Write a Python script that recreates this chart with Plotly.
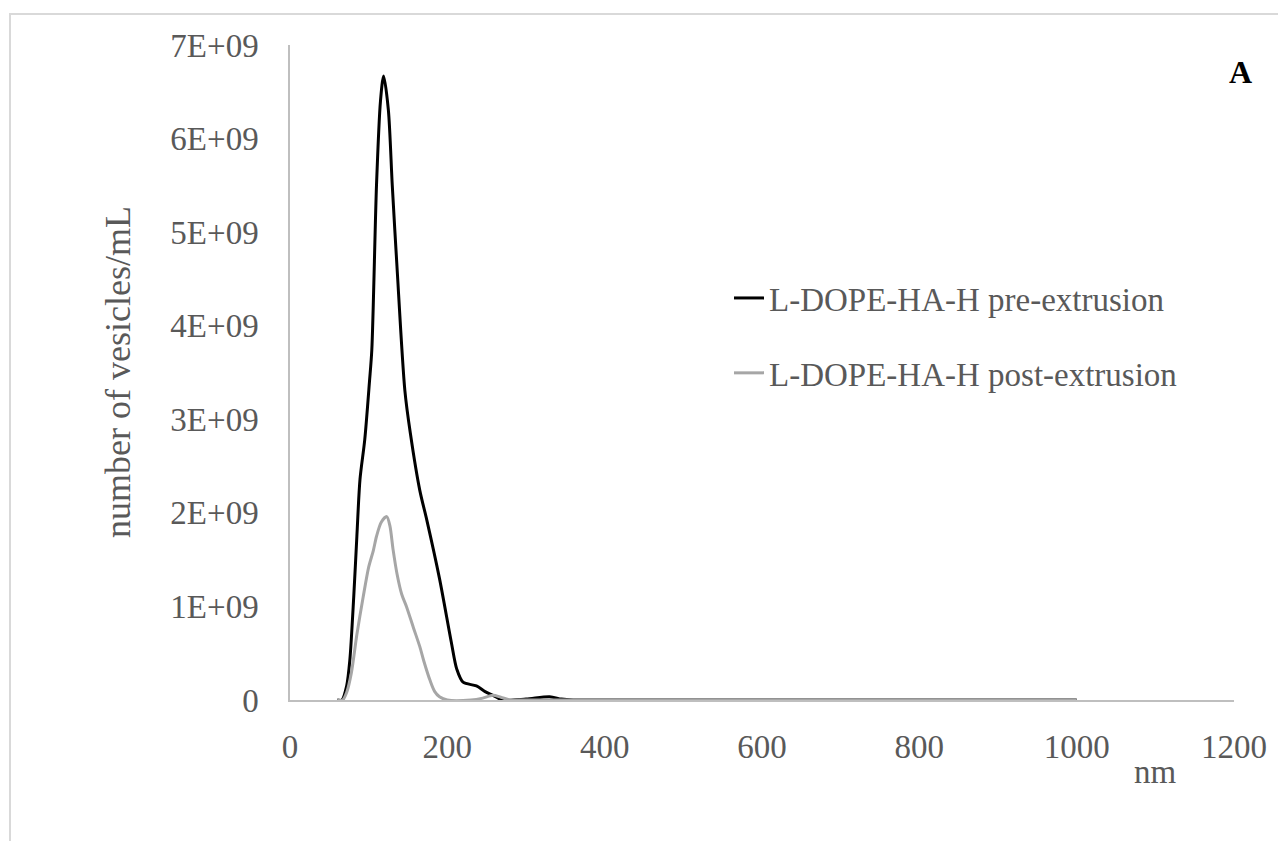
import plotly.graph_objects as go

# Size distribution, particles per mL (units of 1E9) vs diameter in nm
pre_nm = [60, 66, 72, 76, 81, 85, 89, 95, 101, 104, 110, 115, 119, 125, 130, 136, 146,
          153, 165, 174, 190, 205, 212, 220, 237, 248, 258, 270, 300, 330, 345, 360,
          400, 600, 800, 1000]
pre_val = [0.0, 0.0, 0.15, 0.42, 1.10, 1.75, 2.36, 2.78, 3.40, 3.74, 5.51, 6.40, 6.67,
           6.31, 5.50, 4.63, 3.31, 2.85, 2.24, 1.92, 1.30, 0.62, 0.33, 0.19, 0.15,
           0.09, 0.05, 0.0, 0.01, 0.035, 0.01, 0.0, 0.0, 0.0, 0.0, 0.0]

post_nm = [60, 67, 72, 78, 85, 93, 100, 106, 110, 116, 123, 127, 131, 136, 142, 148,
           157, 165, 170, 178, 184, 190, 200, 230, 245, 258, 268, 280, 300, 400, 600,
           800, 1000]
post_val = [0.0, 0.0, 0.08, 0.29, 0.70, 1.10, 1.42, 1.60, 1.75, 1.90, 1.96, 1.86, 1.61,
            1.35, 1.13, 1.00, 0.77, 0.57, 0.42, 0.21, 0.09, 0.035, 0.0, 0.0, 0.02,
            0.05, 0.03, 0.0, 0.0, 0.0, 0.0, 0.0, 0.0]

series_names = ["L-DOPE-HA-H pre-extrusion", "L-DOPE-HA-H post-extrusion"]
y_tick_vals = [0, 1e9, 2e9, 3e9, 4e9, 5e9, 6e9, 7e9]
y_tick_text = ["0", "1E+09", "2E+09", "3E+09", "4E+09", "5E+09", "6E+09", "7E+09"]
x_tick_vals = [0, 200, 400, 600, 800, 1000, 1200]

FONT = "Liberation Serif, Times New Roman, serif"
TXT = "#595959"
W, H = 1278, 841
ML, MR, MT, MB = 290, 44, 45, 141
PW, PH = W - ML - MR, H - MT - MB


def px_to_paper_x(px):
    return (px - ML) / PW


def px_to_paper_y(py):
    return (H - MB - py) / PH


fig = go.Figure()
fig.add_trace(go.Scatter(
    x=pre_nm, y=[v * 1e9 for v in pre_val], mode="lines", name=series_names[0],
    line=dict(color="#000000", width=3, shape="spline", smoothing=0.8),
    legendgroup="a",
))
fig.add_trace(go.Scatter(
    x=post_nm, y=[v * 1e9 for v in post_val], mode="lines", name=series_names[1],
    line=dict(color="#a6a6a6", width=3, shape="spline", smoothing=0.8),
    legendgroup="b",
))

fig.update_layout(
    width=W, height=H,
    margin=dict(l=ML, r=MR, t=MT, b=MB),
    paper_bgcolor="white", plot_bgcolor="white",
    font=dict(family=FONT, size=33, color=TXT),
    showlegend=True,
    legend=dict(
        x=px_to_paper_x(729), y=px_to_paper_y(270), xanchor="left", yanchor="top",
        font=dict(family=FONT, size=33, color=TXT),
        traceorder="grouped", tracegroupgap=29, bgcolor="rgba(0,0,0,0)",
        itemwidth=30,
    ),
    xaxis=dict(
        range=[0, 1200], tickvals=x_tick_vals, showgrid=False, zeroline=False,
        showline=True, linecolor="#bfbfbf", linewidth=1.5, ticks="",
        ticklabelstandoff=17, tickfont=dict(family=FONT, size=33, color=TXT),
    ),
    yaxis=dict(
        range=[0, 7e9], tickvals=y_tick_vals, ticktext=y_tick_text, showgrid=False,
        zeroline=False, showline=True, linecolor="#bfbfbf", linewidth=1.5, ticks="",
        ticklabelstandoff=23, tickfont=dict(family=FONT, size=33, color=TXT),
    ),
    annotations=[
        dict(text="number of vesicles/mL", textangle=-90, xref="paper", yref="paper",
             x=px_to_paper_x(118), y=px_to_paper_y(372), xanchor="center",
             yanchor="middle", showarrow=False,
             font=dict(family=FONT, size=36, color=TXT)),
        dict(text="nm", xref="paper", yref="paper",
             x=px_to_paper_x(1155), y=px_to_paper_y(772), xanchor="center",
             yanchor="middle", showarrow=False,
             font=dict(family=FONT, size=33, color=TXT)),
        dict(text="<b>A</b>", xref="paper", yref="paper",
             x=px_to_paper_x(1240), y=px_to_paper_y(72), xanchor="center",
             yanchor="middle", showarrow=False,
             font=dict(family=FONT, size=32, color="#000000")),
    ],
    shapes=[
        dict(type="rect", xref="paper", yref="paper",
             x0=px_to_paper_x(10), x1=px_to_paper_x(1300),
             y0=px_to_paper_y(860), y1=px_to_paper_y(14),
             line=dict(color="#d9d9d9", width=2), layer="below"),
    ],
)

fig.write_html("out.html")
